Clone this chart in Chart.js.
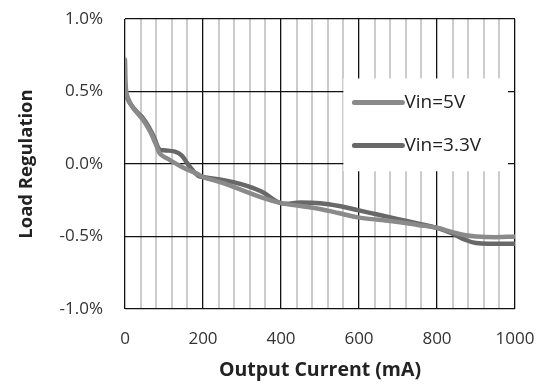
<!DOCTYPE html>
<html>
<head>
<meta charset="utf-8">
<script src="https://cdn.jsdelivr.net/npm/chart.js@4/dist/chart.umd.min.js"></script>
<style>
html,body{margin:0;padding:0;background:#fff;}
#wrap{width:545px;height:385px;}
</style>
</head>
<body>
<div id="wrap"><canvas id="c" width="545" height="385"></canvas></div>
<script>
// ---- data (mA, %) ----
const seriesLabels = ["Vin=5V", "Vin=3.3V"];
const current5V = [0, 3, 10, 20, 35, 50, 65, 80, 90, 110, 146, 187, 200, 250, 300, 350, 400, 450, 500, 550, 600, 650, 700, 750, 800, 840, 870, 900, 950, 1000];
const reg5V     = [0.72, 0.50, 0.44, 0.39, 0.34, 0.29, 0.22, 0.13, 0.07, 0.035, -0.02, -0.07, -0.09, -0.13, -0.18, -0.23, -0.27, -0.29, -0.31, -0.34, -0.37, -0.385, -0.40, -0.42, -0.44, -0.47, -0.49, -0.50, -0.505, -0.50];
const current33V = [0, 5, 15, 30, 45, 60, 75, 88, 100, 128, 145, 161, 187, 200, 250, 300, 350, 400, 450, 500, 550, 600, 650, 700, 750, 800, 840, 870, 900, 950, 1000];
const reg33V     = [0.50, 0.46, 0.41, 0.36, 0.32, 0.26, 0.18, 0.10, 0.095, 0.085, 0.06, 0.0, -0.08, -0.09, -0.11, -0.14, -0.19, -0.27, -0.265, -0.27, -0.29, -0.32, -0.35, -0.38, -0.41, -0.44, -0.48, -0.52, -0.545, -0.55, -0.55];
const xTickLabels = [0, 200, 400, 600, 800, 1000];
const yTickValues = [-1, -0.5, 0, 0.5, 1];
const yTickLabels = ["-1.0%", "-0.5%", "0.0%", "0.5%", "1.0%"];

const colors = ["#8a8a8a", "#686868"];
function pts(xs, ys){ return xs.map((x,i)=>({x:x, y:ys[i]})); }

const legendBox = {
  id: 'legendBox',
  beforeDatasetsDraw(chart){
    const ctx = chart.ctx;
    const xs = chart.scales.x, ys = chart.scales.y;
    const left = xs.getPixelForValue(560), right = xs.getPixelForValue(982);
    const top = ys.getPixelForValue(0.59), bottom = ys.getPixelForValue(-0.05);
    ctx.save();
    ctx.fillStyle = '#ffffff';
    ctx.fillRect(left, top, right - left, bottom - top);
    ctx.font = '19px "Open Sans", "DejaVu Sans", sans-serif';
    ctx.textBaseline = 'middle';
    ctx.textAlign = 'left';
    const rows = [top + 24, top + 67];
    chart.data.datasets.forEach((ds, i) => {
      const y = rows[i];
      ctx.strokeStyle = ds.borderColor;
      ctx.lineWidth = 5;
      ctx.lineCap = 'round';
      ctx.beginPath();
      ctx.moveTo(left + 11, y);
      ctx.lineTo(left + 59, y);
      ctx.stroke();
      ctx.fillStyle = '#222';
      ctx.fillText(ds.label, left + 61, y);
    });
    ctx.restore();
  }
};

new Chart(document.getElementById('c'), {
  type: 'scatter',
  data: {
    datasets: [
      { label: seriesLabels[0], data: pts(current5V, reg5V), showLine: true, borderColor: colors[0], backgroundColor: colors[0], borderWidth: 4.5, pointRadius: 0, tension: 0.4, borderCapStyle: 'round', borderJoinStyle: 'round' },
      { label: seriesLabels[1], data: pts(current33V, reg33V), showLine: true, borderColor: colors[1], backgroundColor: colors[1], borderWidth: 4.5, pointRadius: 0, tension: 0.4, borderCapStyle: 'round', borderJoinStyle: 'round' }
    ]
  },
  options: {
    responsive: false,
    animation: false,
    layout: { padding: { top: 19, right: 30, left: 16, bottom: 0 } },
    plugins: { legend: { display: false }, tooltip: { enabled: false } },
    scales: {
      x: {
        type: 'linear', min: 0, max: 1000,
        afterBuildTicks(scale){
          const t = [];
          for (let v = 0; v <= 1000; v += 40) t.push({value: v});
          xTickLabels.forEach(v => { if (!t.find(o => o.value === v)) t.push({value: v}); });
          t.sort((a,b)=>a.value-b.value);
          scale.ticks = t;
        },
        afterFit(scale){ scale.height = 76; scale.paddingLeft = 0; scale.paddingRight = 0; },
        ticks: {
          autoSkip: false, maxRotation: 0, padding: 20,
          color: '#333',
          font: { family: '"Open Sans", "DejaVu Sans", sans-serif', size: 17 },
          callback: (v) => xTickLabels.includes(v) ? String(v) : ''
        },
        grid: {
          drawTicks: false,
          color: (c) => (c.tick && xTickLabels.includes(c.tick.value)) ? '#111' : '#cccccc',
          lineWidth: (c) => (c.tick && xTickLabels.includes(c.tick.value)) ? 1.3 : 2
        },
        border: { display: false },
        title: { display: true, text: 'Output Current (mA)', color: '#222', padding: {top: 2, bottom: 3},
          font: { family: '"Open Sans", "DejaVu Sans", sans-serif', size: 19.5, weight: 'bold' } }
      },
      y: {
        min: -1, max: 1,
        afterBuildTicks(scale){ scale.ticks = yTickValues.map(v => ({value: v})); },
        afterFit(scale){ scale.width = 109; scale.paddingTop = 0; scale.paddingBottom = 0; },
        ticks: {
          padding: 22, color: '#333',
          font: { family: '"Open Sans", "DejaVu Sans", sans-serif', size: 17 },
          callback: (v) => yTickLabels[yTickValues.indexOf(v)]
        },
        grid: { drawTicks: false, color: '#111', lineWidth: 1.3 },
        border: { display: false },
        title: { display: true, text: 'Load Regulation', color: '#222', padding: {top: 0, bottom: 0},
          font: { family: '"Open Sans", "DejaVu Sans", sans-serif', size: 18.5, weight: 'bold' } }
      }
    }
  },
  plugins: [legendBox]
});
</script>
</body>
</html>
